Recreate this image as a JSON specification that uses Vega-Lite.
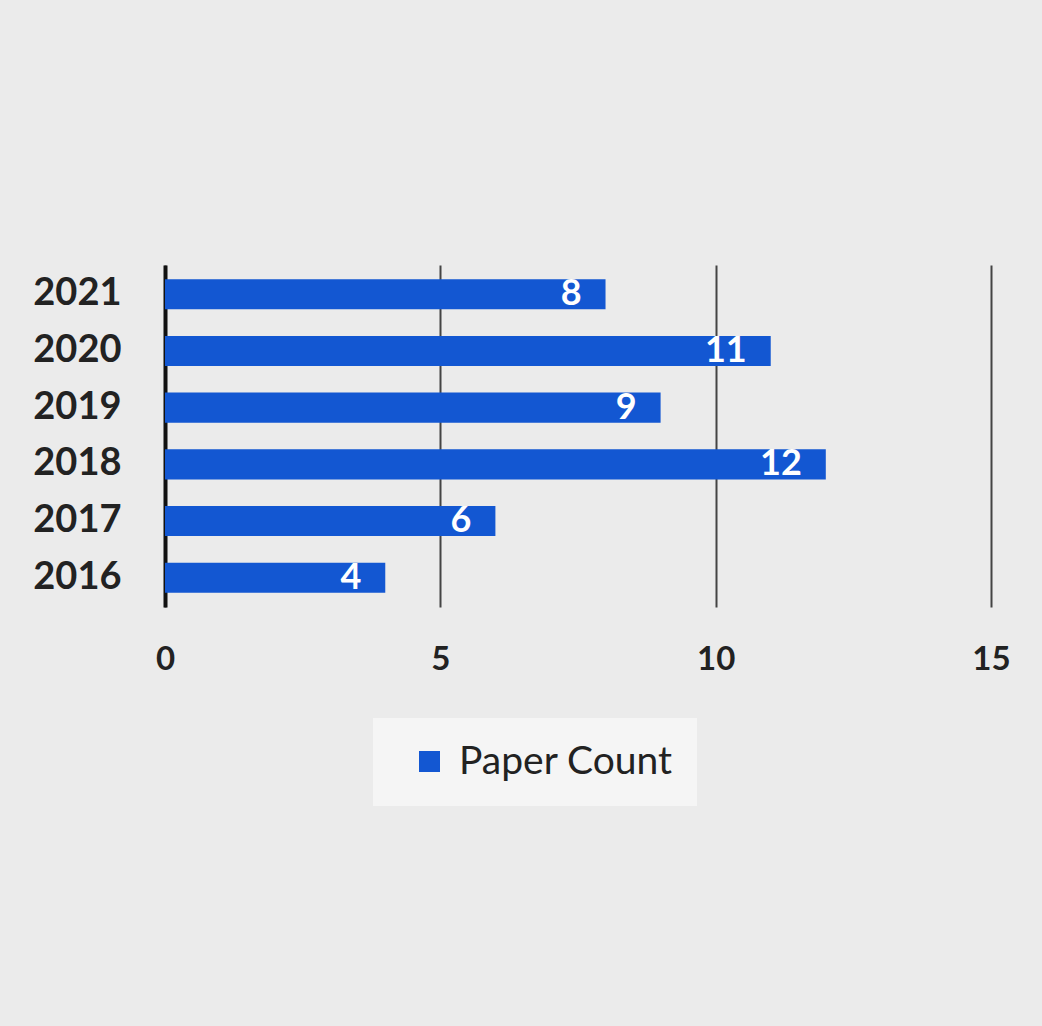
{
  "$schema": "https://vega.github.io/schema/vega-lite/v6.json",
  "autosize": "none",
  "width": 826,
  "height": 342,
  "padding": {"left": 165, "top": 265, "right": 51, "bottom": 419},
  "background": "#ebebeb",
  "config": {
    "view": {"stroke": null},
    "font": "Lato"
  },
  "data": {
    "values": [
      {"year": "2021", "count": 8, "series": "Paper Count"},
      {"year": "2020", "count": 11, "series": "Paper Count"},
      {"year": "2019", "count": 9, "series": "Paper Count"},
      {"year": "2018", "count": 12, "series": "Paper Count"},
      {"year": "2017", "count": 6, "series": "Paper Count"},
      {"year": "2016", "count": 4, "series": "Paper Count"}
    ]
  },
  "encoding": {
    "y": {
      "field": "year",
      "type": "nominal",
      "sort": ["2021", "2020", "2019", "2018", "2017", "2016"],
      "title": null,
      "scale": {"paddingInner": 0.47, "paddingOuter": 0.25},
      "axis": {
        "domain": true,
        "domainColor": "#111111",
        "domainWidth": 4,
        "ticks": false,
        "labelFontSize": 38,
        "labelFontWeight": "bold",
        "labelColor": "#222222",
        "labelPadding": 44,
        "grid": false
      }
    },
    "x": {
      "field": "count",
      "type": "quantitative",
      "title": null,
      "scale": {"domain": [0, 15]},
      "axis": {
        "values": [0, 5, 10, 15],
        "domain": false,
        "ticks": false,
        "grid": true,
        "gridColor": "#444444",
        "gridWidth": 2,
        "labelFlush": false,
        "labelFontSize": 33,
        "labelFontWeight": "bold",
        "labelColor": "#222222",
        "labelPadding": 36
      }
    }
  },
  "layer": [
    {
      "mark": {"type": "bar", "color": "#1357d2"},
      "encoding": {
        "color": {
          "field": "series",
          "type": "nominal",
          "scale": {"range": ["#1357d2"]},
          "legend": {
            "title": null,
            "orient": "none",
            "legendX": 208,
            "legendY": 453,
            "fillColor": "#f5f5f5",
            "padding": 24,
            "symbolOffset": 13,
            "symbolType": "square",
            "symbolSize": 441,
            "symbolStrokeWidth": 0,
            "labelFontSize": 39,
            "labelLimit": 500,
            "labelColor": "#222222",
            "labelOffset": 10
          }
        }
      }
    },
    {
      "mark": {"type": "text", "align": "right", "baseline": "middle", "dx": -24, "color": "white", "fontSize": 36, "fontWeight": "bold"},
      "encoding": {"text": {"field": "count", "type": "quantitative"}}
    }
  ]
}
